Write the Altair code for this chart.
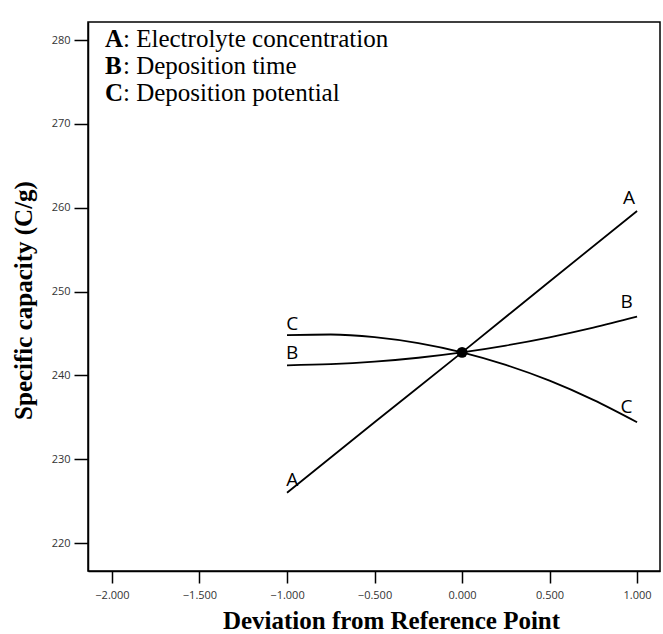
import altair as alt
import pandas as pd

# Curves (x = deviation, y = specific capacity)
a_x = [-1.0, -0.5, 0.0, 0.5, 1.0]
a_y = [226.0, 234.4, 242.74, 251.2, 259.6]

b_x = [-1.0, -0.75, -0.5, -0.25, 0.0, 0.25, 0.5, 0.75, 1.0]
b_y = [241.2, 241.33, 241.63, 242.1, 242.74, 243.55, 244.53, 245.68, 247.0]

c_x = [-1.0, -0.75, -0.5, -0.25, 0.0, 0.25, 0.5, 0.75, 1.0]
c_y = [244.8, 244.87, 244.56, 243.84, 242.74, 241.24, 239.36, 237.07, 234.4]

ref_x = [0.0]
ref_y = [242.74]

# Curve end labels
lab_text = ["A", "A", "B", "B", "C", "C"]
lab_x = [-0.97, 0.954, -0.97, 0.94, -0.97, 0.94]
lab_y = [227.5, 261.2, 242.7, 248.7, 246.1, 236.2]

# Legend text
leg_key = ["A", "B", "C"]
leg_desc = [": Electrolyte concentration", ": Deposition time", ": Deposition potential"]

x_ticks = [-2.0, -1.5, -1.0, -0.5, 0.0, 0.5, 1.0]
y_ticks = [220, 230, 240, 250, 260, 270, 280]
x_dom = [-2.137, 1.131]
y_dom = [216.66, 282.15]

rows = []
for name, xs_, ys_ in (("A", a_x, a_y), ("B", b_x, b_y), ("C", c_x, c_y)):
    for i, (xv, yv) in enumerate(zip(xs_, ys_)):
        rows.append({"factor": name, "x": xv, "y": yv, "order": i})
curves = pd.DataFrame(rows)
labels = pd.DataFrame({"t": lab_text, "x": lab_x, "y": lab_y})
ref = pd.DataFrame({"x": ref_x, "y": ref_y})

xs = alt.Scale(domain=x_dom, nice=False, zero=False)
ys = alt.Scale(domain=y_dom, nice=False, zero=False)

x_axis = alt.Axis(
    values=x_ticks, format=".3f", title="Deviation from Reference Point",
    grid=False, tickSize=12, tickColor="black", tickWidth=1.5,
    domainColor="black", domainWidth=1.5,
    labelFont="Open Sans", labelFontSize=11, labelColor="#333333", labelPadding=6,
    titleFont="Liberation Serif", titleFontSize=25, titleFontWeight="bold",
    titleColor="black", titleX=303, titleY=57, titleBaseline="alphabetic",
    titleAlign="center",
)
y_axis = alt.Axis(
    values=y_ticks, format="d", title="Specific capacity (C/g)",
    grid=False, tickSize=14, tickColor="black", tickWidth=1.5,
    domainColor="black", domainWidth=1.5,
    labelFont="Open Sans", labelFontSize=11, labelColor="#333333", labelPadding=4,
    titleFont="Liberation Serif", titleFontSize=25, titleFontWeight="bold",
    titleColor="black", titleX=-57, titleY=278, titleAngle=-90,
    titleBaseline="alphabetic", titleAlign="center",
)

lines = alt.Chart(curves).mark_line(color="black", strokeWidth=1.8, interpolate="monotone").encode(
    x=alt.X("x:Q", scale=xs, axis=x_axis),
    y=alt.Y("y:Q", scale=ys, axis=y_axis),
    detail="factor:N",
    order="order:Q",
)

point = alt.Chart(ref).mark_circle(color="black", size=120, opacity=1).encode(
    x=alt.X("x:Q", scale=xs), y=alt.Y("y:Q", scale=ys)
)

curve_labels = alt.Chart(labels).mark_text(
    font="Open Sans", fontSize=19, color="black", align="center", baseline="middle"
).encode(x=alt.X("x:Q", scale=xs), y=alt.Y("y:Q", scale=ys), text="t:N")

legend_layers = []
for i, (k, d) in enumerate(zip(leg_key, leg_desc)):
    yb = 25 + i * 27
    legend_layers.append(
        alt.Chart(ref).mark_text(
            font="Liberation Serif", fontSize=25, fontWeight="bold", color="black",
            align="left", baseline="alphabetic"
        ).encode(x=alt.value(17), y=alt.value(yb), text=alt.value(k))
    )
    legend_layers.append(
        alt.Chart(ref).mark_text(
            font="Liberation Serif", fontSize=25, color="black",
            align="left", baseline="alphabetic"
        ).encode(x=alt.value(35), y=alt.value(yb), text=alt.value(d))
    )

chart = alt.layer(lines, point, curve_labels, *legend_layers).properties(
    width=572, height=549,
    autosize=alt.AutoSizeParams(type="none"),
    padding={"left": 88, "top": 22, "right": 3, "bottom": 63},
    background="white",
).configure_view(stroke="black", strokeWidth=1.5)

chart.save("out.html", embed_options={"renderer": "svg", "actions": False})
